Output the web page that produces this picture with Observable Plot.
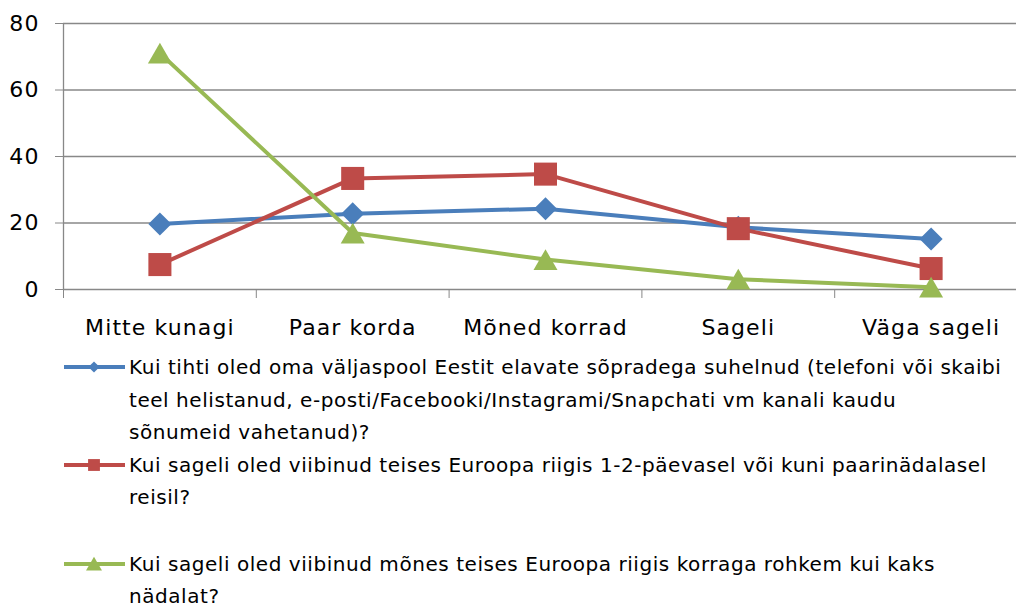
<!DOCTYPE html>
<html>
<head>
<meta charset="utf-8">
<script src="https://cdn.jsdelivr.net/npm/d3@7"></script>
<script src="https://cdn.jsdelivr.net/npm/@observablehq/plot@0.6"></script>
<style>
  html, body { margin: 0; padding: 0; background: #fff; width: 1016px; height: 608px; overflow: hidden; }
  #chart svg { display: block; overflow: visible; }
  #chart svg text { letter-spacing: 1.1px; }
  #legend { font-family: "DejaVu Sans", sans-serif; font-size: 20px; letter-spacing: 0.55px; color: #000; margin-top: 6px; }
  .entry { display: flex; align-items: flex-start; line-height: 32.5px; }
  .entry svg { flex: none; margin-left: 64px; margin-right: 4px; }
  .entry .txt { white-space: pre-line; }
  .entry.gap { margin-top: 34px; }
</style>
</head>
<body>
<div id="chart"></div>
<div id="legend"></div>
<script>
const categories = ["Mitte kunagi", "Paar korda", "Mõned korrad", "Sageli", "Väga sageli"];
const yTicks = [0, 20, 40, 60, 80];
const seriesNames = [
  "Kui tihti oled oma väljaspool Eestit elavate sõpradega suhelnud (telefoni või skaibi\nteel helistanud, e-posti/Facebooki/Instagrami/Snapchati vm kanali kaudu\nsõnumeid vahetanud)?",
  "Kui sageli oled viibinud teises Euroopa riigis 1-2-päevasel või kuni paarinädalasel\nreisil?",
  "Kui sageli oled viibinud mõnes teises Euroopa riigis korraga rohkem kui kaks\nnädalat?"
];
const blueValues = [19.7, 22.8, 24.3, 18.7, 15.2];
const redValues = [7.5, 33.4, 34.7, 18.3, 6.3];
const greenValues = [71.1, 17.0, 9.0, 3.1, 0.7];
const seriesColors = ["#4A7EBB", "#BE4B48", "#98B954"];
const seriesSymbols = ["diamond2", "square", "triangle"];
const seriesRadius = [10.4, 13, 8.9];
const seriesDy = [0, 0, 3.5];

const allValues = [blueValues, redValues, greenValues];
const grid = "#888888";

const seriesMarks = allValues.flatMap((vals, s) => {
  const rows = vals.map((v, i) => ({pos: i + 0.5, value: v, cat: categories[i]}));
  return [
    Plot.line(rows, {x: "pos", y: "value", stroke: seriesColors[s], strokeWidth: 4, strokeLinejoin: "round"}),
    Plot.dot(rows, {x: "pos", y: "value", symbol: () => seriesSymbols[s], r: seriesRadius[s], fill: seriesColors[s], stroke: "none", dy: seriesDy[s]})
  ];
});

const chart = Plot.plot({
  width: 1016,
  height: 345,
  marginLeft: 63,
  marginRight: 0,
  marginTop: 23,
  marginBottom: 56,
  style: {fontFamily: "DejaVu Sans, sans-serif", fontSize: "22px", color: "#000", background: "#fff"},
  x: {domain: [0, categories.length], range: [63, 63 + 192.8 * categories.length]},
  y: {domain: [0, 80]},
  symbol: {type: "identity"},
  marks: [
    Plot.ruleY(yTicks, {stroke: grid, strokeWidth: 1.3}),
    Plot.ruleX([0], {y1: 0, y2: 80, stroke: grid, strokeWidth: 1.3}),
    Plot.axisY({ticks: yTicks, tickSize: 8, tickPadding: 16, stroke: grid, fill: "#000", fontSize: 22, label: null}),
    Plot.axisX({ticks: d3.range(categories.length + 1), tickSize: 9, tickFormat: () => "", stroke: grid, label: null}),
    Plot.axisX({ticks: categories.map((_, i) => i + 0.5), tickSize: 0, tickPadding: 30, tickFormat: d => categories[Math.floor(d)], fill: "#000", fontSize: 22, label: null}),
    ...seriesMarks
  ]
});
document.getElementById("chart").appendChild(chart);

// Legend
const legendSymbols = [d3.symbolDiamond2, d3.symbolSquare, d3.symbolTriangle];
const legend = d3.select("#legend");
seriesNames.forEach((name, s) => {
  const entry = legend.append("div").attr("class", "entry" + (s === 2 ? " gap" : ""));
  const sw = entry.append("svg").attr("width", 61).attr("height", 32.5);
  sw.append("line").attr("x1", 0).attr("x2", 61).attr("y1", 16).attr("y2", 16)
    .attr("stroke", seriesColors[s]).attr("stroke-width", 4);
  const size = [80, 140, 110][s];
  sw.append("path").attr("d", d3.symbol(legendSymbols[s], size)())
    .attr("transform", `translate(30,${16 + (s === 2 ? 2 : 0)})`).attr("fill", seriesColors[s]);
  entry.append("div").attr("class", "txt").text(name);
});
</script>
</body>
</html>
